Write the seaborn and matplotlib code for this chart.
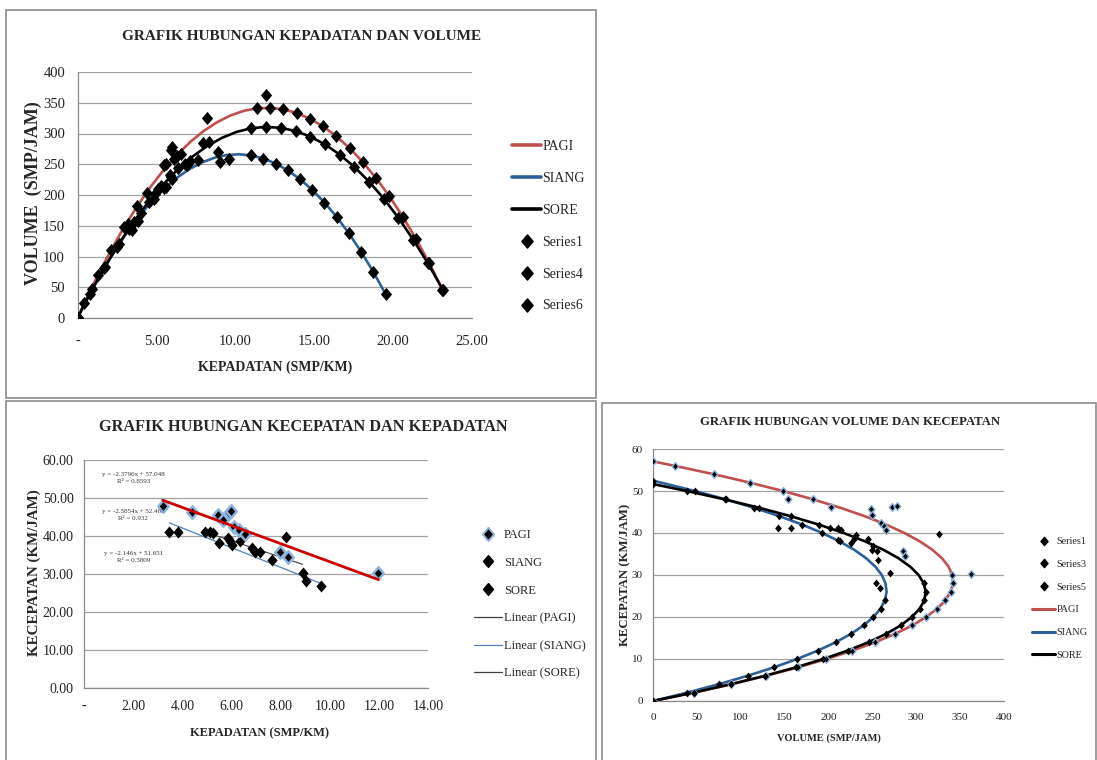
import numpy as np
import pandas as pd
import matplotlib
matplotlib.use("Agg")
import matplotlib.pyplot as plt
import seaborn as sns
from matplotlib.lines import Line2D
from matplotlib.patches import Rectangle
from matplotlib.path import Path
from matplotlib.markers import MarkerStyle

# ---- model curves (kecepatan km/jam, kepadatan smp/km, volume smp/jam) ----
pagi_speed = [57.05, 56, 54, 52, 50, 48, 46, 44, 42, 40, 38, 36, 34, 32, 30,
              28, 26, 24, 22, 20, 18, 16, 14, 12, 10, 8, 6, 4, 2, 0]
pagi_density = [0.00, 0.44, 1.28, 2.12, 2.96, 3.80, 4.64, 5.48, 6.32, 7.16, 8.00,
                8.85, 9.69, 10.53, 11.37, 12.21, 13.05, 13.89, 14.73, 15.57,
                16.41, 17.25, 18.09, 18.93, 19.77, 20.61, 21.45, 22.29, 23.13, 23.97]
pagi_volume = [0.0, 24.7, 69.2, 110.3, 148.1, 182.5, 213.6, 241.3, 265.6, 286.6,
               304.2, 318.4, 329.3, 336.8, 341.0, 341.8, 339.2, 333.3, 324.0,
               311.4, 295.4, 276.0, 253.3, 227.2, 197.7, 164.9, 128.7, 89.2, 46.3, 0.0]

siang_speed = [52.47, 50, 48, 46, 44, 42, 40, 38, 36, 34, 32, 30, 28, 26, 24,
               22, 20, 18, 16, 14, 12, 10, 8, 6, 4, 2, 0]
siang_density = [0.00, 0.95, 1.73, 2.50, 3.27, 4.05, 4.82, 5.60, 6.37, 7.14, 7.92,
                 8.69, 9.46, 10.24, 11.01, 11.78, 12.56, 13.33, 14.10, 14.88,
                 15.65, 16.43, 17.20, 17.97, 18.75, 19.52, 20.29]
siang_volume = [0.0, 47.7, 82.9, 115.1, 144.1, 170.0, 192.9, 212.6, 229.3, 242.9,
                253.3, 260.7, 265.0, 266.2, 264.3, 259.3, 251.2, 240.0, 225.7,
                208.3, 187.8, 164.3, 137.6, 107.8, 75.0, 39.0, 0.0]

sore_speed = [51.65, 50, 48, 46, 44, 42, 40, 38, 36, 34, 32, 30, 28, 26, 24,
              22, 20, 18, 16, 14, 12, 10, 8, 6, 4, 2, 0]
sore_density = [0.00, 0.77, 1.70, 2.63, 3.57, 4.50, 5.43, 6.36, 7.29, 8.23, 9.16,
                10.09, 11.02, 11.95, 12.89, 13.82, 14.75, 15.68, 16.61, 17.55,
                18.48, 19.41, 20.34, 21.27, 22.21, 23.14, 24.07]
sore_volume = [0.0, 38.5, 81.7, 121.1, 156.9, 188.9, 217.2, 241.7, 262.6, 279.7,
               293.0, 302.7, 308.6, 310.8, 309.2, 304.0, 295.0, 282.3, 265.8,
               245.6, 221.7, 194.1, 162.7, 127.6, 88.8, 46.3, 0.0]

# ---- observed points ----
pagi_obs_density = [3.20, 4.38, 5.46, 5.64, 5.90, 5.98, 6.10, 6.32, 6.55, 7.97, 8.31, 11.97]
pagi_obs_speed = [48.0, 46.3, 45.6, 44.3, 46.2, 46.5, 42.5, 41.7, 40.6, 35.7, 34.5, 30.3]
pagi_obs_volume = [153.6, 202.8, 249.0, 249.9, 272.6, 278.1, 259.3, 263.5, 265.9, 284.5, 286.7, 362.7]

siang_obs_density = [3.47, 3.83, 5.12, 5.50, 5.94, 6.00, 6.95, 7.63, 9.03, 9.63]
siang_obs_speed = [41.1, 41.1, 41.1, 38.3, 38.6, 37.7, 35.9, 33.6, 28.1, 26.9]
siang_obs_volume = [142.6, 157.4, 210.4, 210.7, 229.3, 226.2, 249.5, 256.4, 253.7, 259.0]

sore_obs_density = [4.92, 5.26, 5.87, 6.34, 6.82, 7.16, 8.21, 8.89]
sore_obs_speed = [41.1, 40.8, 39.5, 38.6, 36.8, 35.7, 39.7, 30.4]
sore_obs_volume = [202.2, 214.6, 231.9, 244.7, 251.0, 255.6, 325.9, 270.3]

# ---- linear trend lines (panel 2) ----
pagi_trend_density = [3.20, 11.97]
pagi_trend_speed = [49.43, 28.56]
siang_trend_density = [3.47, 9.63]
siang_trend_speed = [43.50, 27.57]
sore_trend_density = [4.92, 8.89]
sore_trend_speed = [41.09, 32.57]

trend_labels = ["y = -2.3796x + 57.048\nR² = 0.8593",
                "y = -2.5854x + 52.467\nR² = 0.932",
                "y = -2.146x + 51.651\nR² = 0.5809"]

# ---- tick labels ----
p1_xticks = [0, 5, 10, 15, 20, 25]
p1_xlabels = ["-", "5.00", "10.00", "15.00", "20.00", "25.00"]
p1_yticks = [0, 50, 100, 150, 200, 250, 300, 350, 400]
p2_xticks = [0, 2, 4, 6, 8, 10, 12, 14]
p2_xlabels = ["-", "2.00", "4.00", "6.00", "8.00", "10.00", "12.00", "14.00"]
p2_yticks = [0, 10, 20, 30, 40, 50, 60]
p2_ylabels = ["0.00", "10.00", "20.00", "30.00", "40.00", "50.00", "60.00"]
p3_xticks = [0, 50, 100, 150, 200, 250, 300, 350, 400]
p3_yticks = [0, 10, 20, 30, 40, 50, 60]

RED = "#C0504D"
BLUE = "#2F5F98"
GLOW = "#8DB4E2"

sns.set_style("white")
plt.rcParams["font.family"] = ["Liberation Serif", "DejaVu Serif"]

W, H = 1097, 760
fig = plt.figure(figsize=(W / 100, H / 100), dpi=100)
fig.patch.set_facecolor("white")


def fig_box(x0, y0, x1, y1):
    return [x0 / W, 1 - y1 / H, (x1 - x0) / W, (y1 - y0) / H]


diamond = MarkerStyle(Path([(0, 1), (0.85, 0), (0, -1), (-0.85, 0), (0, 1)],
                           [1, 2, 2, 2, 79]))


def style_axes(ax, fs, xpad, ypad):
    sns.despine(ax=ax)
    ax.grid(axis="y", color="#a3a3a3", lw=0.9)
    ax.grid(axis="x", visible=False)
    ax.set_axisbelow(True)
    for s in ["left", "bottom"]:
        ax.spines[s].set_color("#8a8a8a")
        ax.spines[s].set_linewidth(0.9)
    ax.tick_params(axis="both", direction="out", length=3, width=0.8,
                   color="#8a8a8a", labelsize=fs, labelcolor="#222222")
    ax.tick_params(axis="x", pad=xpad)
    ax.tick_params(axis="y", pad=ypad)


# frames around the three charts
for box in [(6, 10, 596, 398), (6, 401, 596, 770), (602, 403, 1096, 770)]:
    fig.add_artist(Rectangle((box[0] / W, 1 - box[3] / H),
                             (box[2] - box[0]) / W, (box[3] - box[1]) / H,
                             transform=fig.transFigure, fill=False,
                             ec="#8c8c8c", lw=1.2))

# ================= panel 1 : kepadatan vs volume =================
ax1 = fig.add_axes(fig_box(77.5, 72, 472, 318))
curves = [(pagi_density, pagi_volume, pagi_speed, RED, (30, 48)),
          (siang_density, siang_volume, siang_speed, BLUE, (24, 38)),
          (sore_density, sore_volume, sore_speed, "black", (28, 42))]
for k, v, s, col, cut in curves:
    df = pd.DataFrame({"k": k, "v": v, "s": s})
    df = df[df["s"] > 0]
    sns.lineplot(data=df, x="k", y="v", sort=False, estimator=None,
                 color=col, lw=1.9, ax=ax1, zorder=2)
for k, v, s, col, cut in curves:
    df = pd.DataFrame({"k": k, "v": v, "s": s})
    df = df[(df["s"] > 0) & ((df["s"] <= cut[0]) | (df["s"] >= cut[1]))]
    sns.scatterplot(data=df, x="k", y="v", marker=diamond, s=90, color="black",
                    edgecolor="black", linewidth=0, ax=ax1, zorder=3)
for k, v in [(pagi_obs_density, pagi_obs_volume), (siang_obs_density, siang_obs_volume),
             (sore_obs_density, sore_obs_volume)]:
    sns.scatterplot(x=k, y=v, marker=diamond, s=90, color="black",
                    edgecolor="black", linewidth=0, ax=ax1, zorder=3)
ax1.set_xlim(0, 25)
ax1.set_ylim(0, 400)
ax1.set_xticks(p1_xticks, p1_xlabels)
ax1.set_yticks(p1_yticks)
style_axes(ax1, 10.5, 9, 6)
ax1.set_xlabel("KEPADATAN (SMP/KM)", fontsize=10, fontweight="bold", va="center")
ax1.xaxis.set_label_coords(0.50, -0.199)
ax1.set_ylabel("VOLUME  (SMP/JAM)", fontsize=13, fontweight="bold", va="center")
ax1.yaxis.set_label_coords(-0.113, 0.508)
fig.text(302 / W, 1 - 37 / H, "GRAFIK HUBUNGAN KEPADATAN DAN VOLUME",
         ha="center", va="center", fontsize=11, fontweight="bold")
h1 = [Line2D([], [], color=RED, lw=2.6), Line2D([], [], color=BLUE, lw=2.6),
      Line2D([], [], color="black", lw=2.6)]
h1 += [Line2D([], [], ls="none", marker=diamond, ms=9.5, color="black")] * 3
fig.legend(h1, ["PAGI", "SIANG", "SORE", "Series1", "Series4", "Series6"],
           loc="upper left", bbox_to_anchor=(512 / W, 1 - 140 / H),
           frameon=False, fontsize=10, handlelength=2.1, handletextpad=0.1,
           labelspacing=1.36, borderpad=0, borderaxespad=0)

# ================= panel 2 : kepadatan vs kecepatan =================
ax2 = fig.add_axes(fig_box(84, 460, 428.3, 688.3))
sns.lineplot(x=sore_trend_density, y=sore_trend_speed, color="#404040", lw=0.8,
             ax=ax2, zorder=2)
sns.lineplot(x=siang_trend_density, y=siang_trend_speed, color="#4F81BD", lw=0.9,
             ax=ax2, zorder=2)
sns.scatterplot(x=siang_obs_density, y=siang_obs_speed, marker=diamond, s=75,
                color="black", edgecolor="black", linewidth=0, ax=ax2, zorder=3)
sns.scatterplot(x=sore_obs_density, y=sore_obs_speed, marker=diamond, s=75,
                color="black", edgecolor="black", linewidth=0, ax=ax2, zorder=3)
sns.scatterplot(x=pagi_obs_density, y=pagi_obs_speed, marker=diamond, s=80,
                color="black", edgecolor=GLOW, linewidth=1.8, ax=ax2, zorder=3)
sns.lineplot(x=pagi_trend_density, y=pagi_trend_speed, color="#CC0000", lw=2.0,
             ax=ax2, zorder=4)
ax2.set_xlim(0, 14)
ax2.set_ylim(0, 60)
ax2.set_xticks(p2_xticks, p2_xlabels)
ax2.set_yticks(p2_yticks, p2_ylabels)
style_axes(ax2, 10, 5.5, 4.5)
for (tx, ty), lab in zip([(2.0, 55.3), (2.0, 45.5), (2.0, 34.5)], trend_labels):
    ax2.text(tx, ty, lab, fontsize=5, ha="center", va="center", color="#333333",
             linespacing=1.5)
ax2.set_xlabel("KEPADATAN (SMP/KM)", fontsize=9, fontweight="bold", va="center")
ax2.xaxis.set_label_coords(0.511, -0.196)
ax2.set_ylabel("KECEPATAN (KM/JAM)", fontsize=10.8, fontweight="bold", va="center")
ax2.yaxis.set_label_coords(-0.145, 0.505)
fig.text(303 / W, 1 - 427 / H, "GRAFIK HUBUNGAN KECEPATAN DAN KEPADATAN",
         ha="center", va="center", fontsize=11.7, fontweight="bold")
h2 = [Line2D([], [], ls="none", marker=diamond, ms=9.5, color="black", mec=GLOW, mew=1.4),
      Line2D([], [], ls="none", marker=diamond, ms=8.5, color="black"),
      Line2D([], [], ls="none", marker=diamond, ms=8.5, color="black"),
      Line2D([], [], color="#404040", lw=0.9), Line2D([], [], color="#4F81BD", lw=0.9),
      Line2D([], [], color="#404040", lw=0.9)]
fig.legend(h2, ["PAGI", "SIANG", "SORE", "Linear (PAGI)", "Linear (SIANG)", "Linear (SORE)"],
           loc="upper left", bbox_to_anchor=(474 / W, 1 - 529 / H),
           frameon=False, fontsize=9, handlelength=2.25, handletextpad=0.15,
           labelspacing=1.26, borderpad=0, borderaxespad=0)

# ================= panel 3 : volume vs kecepatan =================
ax3 = fig.add_axes(fig_box(653, 449, 1004, 701))
for k, v, s, col, cut in curves:
    sns.lineplot(x=v, y=s, sort=False, estimator=None, color=col, lw=1.9,
                 ax=ax3, zorder=2)
for i, (k, v, s, col, cut) in enumerate(curves):
    df = pd.DataFrame({"v": v, "s": s})
    df = df[(df["s"] <= cut[0]) | (df["s"] >= cut[1])]
    edge = GLOW if i == 0 else "black"
    lw = 1.0 if i == 0 else 0
    sns.scatterplot(data=df, x="v", y="s", marker=diamond, s=32, color="black",
                    edgecolor=edge, linewidth=lw, ax=ax3, zorder=3)
sns.scatterplot(x=pagi_obs_volume, y=pagi_obs_speed, marker=diamond, s=32,
                color="black", edgecolor=GLOW, linewidth=1.0, ax=ax3, zorder=3)
for v, s in [(siang_obs_volume, siang_obs_speed), (sore_obs_volume, sore_obs_speed)]:
    sns.scatterplot(x=v, y=s, marker=diamond, s=32, color="black",
                    edgecolor="black", linewidth=0, ax=ax3, zorder=3)
ax3.set_xlim(0, 400)
ax3.set_ylim(0, 60)
ax3.set_xticks(p3_xticks)
ax3.set_yticks(p3_yticks)
style_axes(ax3, 8, 5.5, 4.2)
ax3.set_xlabel("VOLUME (SMP/JAM)", fontsize=7.6, fontweight="bold", va="center")
ax3.xaxis.set_label_coords(0.501, -0.147)
ax3.set_ylabel("KECEPATAN (KM/JAM)", fontsize=9.2, fontweight="bold", va="center")
ax3.yaxis.set_label_coords(-0.08, 0.5)
fig.text(850 / W, 1 - 422 / H, "GRAFIK HUBUNGAN VOLUME DAN KECEPATAN",
         ha="center", va="center", fontsize=9.2, fontweight="bold")
h3 = [Line2D([], [], ls="none", marker=diamond, ms=6, color="black")] * 3
h3 += [Line2D([], [], color=RED, lw=2.2), Line2D([], [], color=BLUE, lw=2.2),
       Line2D([], [], color="black", lw=2.2)]
fig.legend(h3, ["Series1", "Series3", "Series5", "PAGI", "SIANG", "SORE"],
           loc="upper left", bbox_to_anchor=(1032 / W, 1 - 537 / H),
           frameon=False, fontsize=7.4, handlelength=2.25, handletextpad=0.15,
           labelspacing=1.32, borderpad=0, borderaxespad=0)

fig.savefig("out.png", dpi=100, facecolor="white")
